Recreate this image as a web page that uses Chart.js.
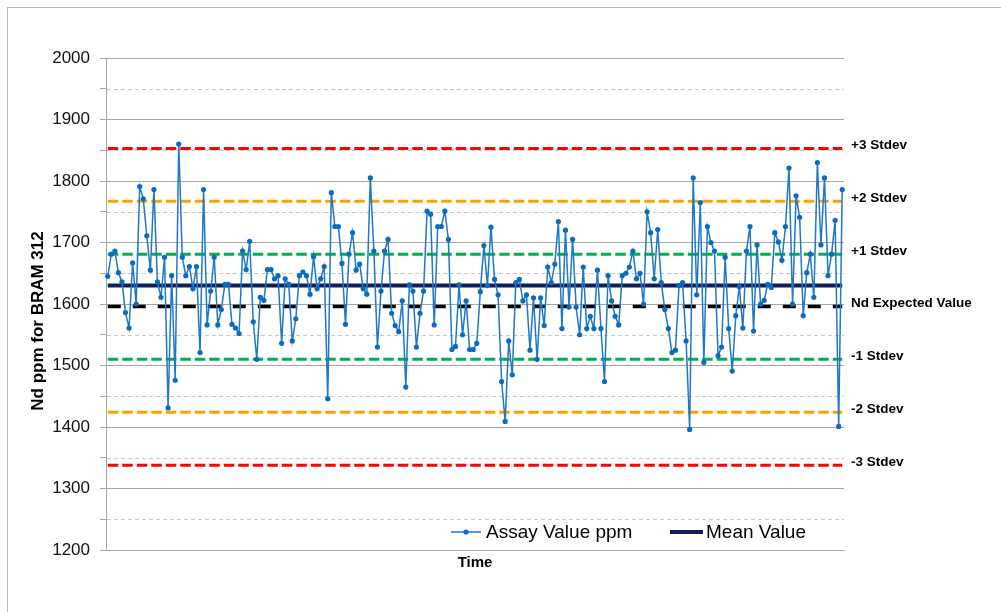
<!DOCTYPE html>
<html><head><meta charset="utf-8">
<script src="https://cdn.jsdelivr.net/npm/chart.js@4.4.0/dist/chart.umd.min.js"></script>
<style>html,body{margin:0;padding:0;background:#fff;}canvas{display:block;}</style>
</head><body>
<canvas id="c" width="1001" height="612"></canvas>
<script>
// ---- data ----
const assayValues = [
  1645, 1681, 1686, 1651, 1636, 1586, 1561, 1667, 1600, 1791, 1771, 1711, 1655, 1786, 1636, 1611, 1676, 1431, 1646, 1476,
  1860, 1676, 1646, 1661, 1625, 1661, 1521, 1786, 1566, 1621, 1676, 1566, 1591, 1632, 1632,
  1567, 1561, 1552, 1686, 1656, 1702, 1571, 1510, 1611, 1606, 1656, 1656, 1641, 1646, 1536, 1641, 1632, 1540, 1576, 1646,
  1652, 1646, 1616, 1677, 1625, 1641, 1661, 1446, 1781, 1726, 1726, 1666, 1567, 1681, 1716,
  1655, 1665, 1625, 1616, 1805, 1686, 1530, 1621, 1686, 1705, 1585, 1565, 1555, 1605, 1465, 1631, 1621, 1530, 1585, 1621,
  1751, 1746, 1566, 1726, 1726, 1751, 1705, 1526, 1531, 1631, 1550, 1605, 1526, 1526, 1536, 1620,
  1695, 1630, 1725, 1640, 1615, 1474, 1409, 1540, 1485, 1635, 1640, 1605, 1615, 1525, 1610, 1510, 1610, 1565, 1660, 1635,
  1665, 1734, 1560, 1720, 1595, 1705, 1595, 1550, 1660, 1560, 1580, 1560, 1655, 1560, 1474,
  1646, 1605, 1580, 1566, 1646, 1650, 1660, 1686, 1641, 1650, 1600, 1750, 1716, 1641, 1721, 1635, 1591, 1560, 1521, 1525,
  1630, 1635, 1540, 1396, 1805, 1615, 1765, 1505, 1726, 1700, 1686, 1516, 1530, 1676, 1560,
  1491, 1581, 1628, 1561, 1686, 1726, 1556, 1696, 1600, 1606, 1632, 1627, 1716, 1701, 1671, 1726, 1821, 1600, 1776, 1741,
  1581, 1651, 1681, 1611, 1830, 1696, 1805, 1646, 1681, 1736, 1401, 1786
];
const meanValue = 1630;
const controlLabels = ['+3 Stdev', '+2 Stdev', '+1 Stdev', 'Nd Expected Value', '-1 Stdev', '-2 Stdev', '-3 Stdev'];
const controlValues = [1853, 1767, 1681, 1596, 1510, 1424, 1338];
const legendLabels = ['Assay Value ppm', 'Mean Value'];
const yMin = 1200, yMax = 2000, yStep = 50, yLabelStep = 100;
const xTitle = 'Time';
const yTitle = 'Nd ppm for BRAM 312';
const timeIndex = assayValues.map((_, i) => i + 1);

// ---- styles ----
const FONT = "'Liberation Sans', Arial, sans-serif";
const controlColors = ['#ff0000', '#ffa000', '#00b050', '#000000', '#00b050', '#ffa000', '#ff0000'];
const GRID = '#a6a6a6';

const decor = {
  id: 'decor',
  beforeDraw(chart) {
    const ctx = chart.ctx;
    ctx.save();
    ctx.fillStyle = '#fff';
    ctx.fillRect(0, 0, chart.width, chart.height);
    ctx.strokeStyle = '#b8b8b8';
    ctx.lineWidth = 1;
    ctx.strokeRect(7.5, 7.5, chart.width + 20, chart.height + 20);
    ctx.restore();
  },
  beforeDatasetsDraw(chart) {
    const {ctx, chartArea: a, scales: {y}} = chart;
    ctx.save();
    ctx.strokeStyle = '#c6c6c6';
    ctx.lineWidth = 1;
    ctx.setLineDash([4, 3]);
    y.ticks.forEach(t => {
      if (t.value % yLabelStep !== 0) {
        const py = Math.round(y.getPixelForValue(t.value)) + 0.5;
        ctx.beginPath();
        ctx.moveTo(a.left + 1, py);
        ctx.lineTo(a.right, py);
        ctx.stroke();
      }
    });
    ctx.restore();
  },
  afterDraw(chart) {
    const ctx = chart.ctx;
    ctx.save();
    // y axis title
    ctx.translate(38, 321);
    ctx.rotate(-Math.PI / 2);
    ctx.font = `bold 17px ${FONT}`;
    ctx.fillStyle = '#000';
    ctx.textAlign = 'center';
    ctx.textBaseline = 'middle';
    ctx.fillText(yTitle, 0, 0);
    ctx.restore();

    // legend inside plot
    const ds = chart.data.datasets;
    const items = [
      {ds: ds[0], x0: 451, x1: 481, tx: 486, dot: true},
      {ds: ds[1], x0: 670, x1: 703, tx: 706, dot: false}
    ];
    const ly = 532;
    ctx.save();
    items.forEach(it => {
      ctx.strokeStyle = it.ds.borderColor;
      ctx.lineWidth = it.ds.borderWidth;
      ctx.beginPath();
      ctx.moveTo(it.x0, ly);
      ctx.lineTo(it.x1, ly);
      ctx.stroke();
      if (it.dot) {
        ctx.fillStyle = it.ds.pointBackgroundColor;
        ctx.beginPath();
        ctx.arc((it.x0 + it.x1) / 2, ly, 2.6, 0, Math.PI * 2);
        ctx.fill();
      }
      ctx.fillStyle = '#000';
      ctx.font = `19px ${FONT}`;
      ctx.textAlign = 'left';
      ctx.textBaseline = 'middle';
      ctx.fillText(it.ds.label, it.tx, ly + 1);
    });
    ctx.restore();
  }
};

const datasets = [
  {
    label: legendLabels[0],
    data: assayValues,
    borderColor: '#1f78c8',
    borderWidth: 1.5,
    pointRadius: 2.6,
    pointBackgroundColor: '#0a6cc0',
    pointBorderWidth: 0,
    pointHoverRadius: 2.6,
    tension: 0
  },
  {
    label: legendLabels[1],
    data: timeIndex.map(() => meanValue),
    borderColor: '#0e1f5b',
    borderWidth: 4,
    pointRadius: 0
  },
  ...controlValues.map((v, i) => ({
    label: controlLabels[i],
    data: timeIndex.map(() => v),
    borderColor: controlColors[i],
    borderWidth: i === 3 ? 3.5 : 3,
    borderDash: i === 3 ? [13, 12] : [10.5, 4],
    pointRadius: 0
  }))
];

new Chart(document.getElementById('c'), {
  type: 'line',
  data: {labels: timeIndex, datasets},
  plugins: [decor],
  options: {
    responsive: false,
    animation: false,
    devicePixelRatio: 1,
    layout: {padding: {top: 58, left: 0, right: 0, bottom: 0}},
    plugins: {legend: {display: false}, tooltip: {enabled: false}},
    scales: {
      x: {
        type: 'category',
        offset: true,
        grid: {display: false},
        border: {display: true, color: GRID, width: 1},
        ticks: {display: false},
        title: {
          display: true, text: xTitle, color: '#000',
          font: {family: FONT, size: 15, weight: 'bold'},
          padding: {top: 0, bottom: 40}
        },
        afterFit(s) { s.height = 62; }
      },
      y: {
        position: 'left',
        min: yMin, max: yMax,
        ticks: {
          stepSize: yStep,
          autoSkip: false,
          color: '#111',
          font: {family: FONT, size: 17},
          padding: 10,
          callback: v => (v % yLabelStep === 0 ? v : '')
        },
        grid: {
          color: c => (c.tick && c.tick.value % yLabelStep === 0 ? GRID : 'rgba(0,0,0,0)'),
          tickColor: GRID,
          tickLength: 6,
          lineWidth: 1
        },
        border: {display: true, color: GRID, width: 1},
        afterFit(s) { s.width = 106; }
      },
      yR: {
        position: 'right',
        min: yMin, max: yMax,
        grid: {display: false, drawTicks: false},
        border: {display: false},
        afterBuildTicks(axis) { axis.ticks = controlValues.map(value => ({value})); },
        ticks: {
          autoSkip: false,
          color: '#000',
          font: {family: FONT, size: 13.5, weight: 'bold'},
          padding: 7,
          labelOffset: -3,
          callback: v => controlLabels[controlValues.indexOf(v)]
        },
        afterFit(s) { s.width = 157; }
      }
    }
  }
});
</script>
</body></html>
